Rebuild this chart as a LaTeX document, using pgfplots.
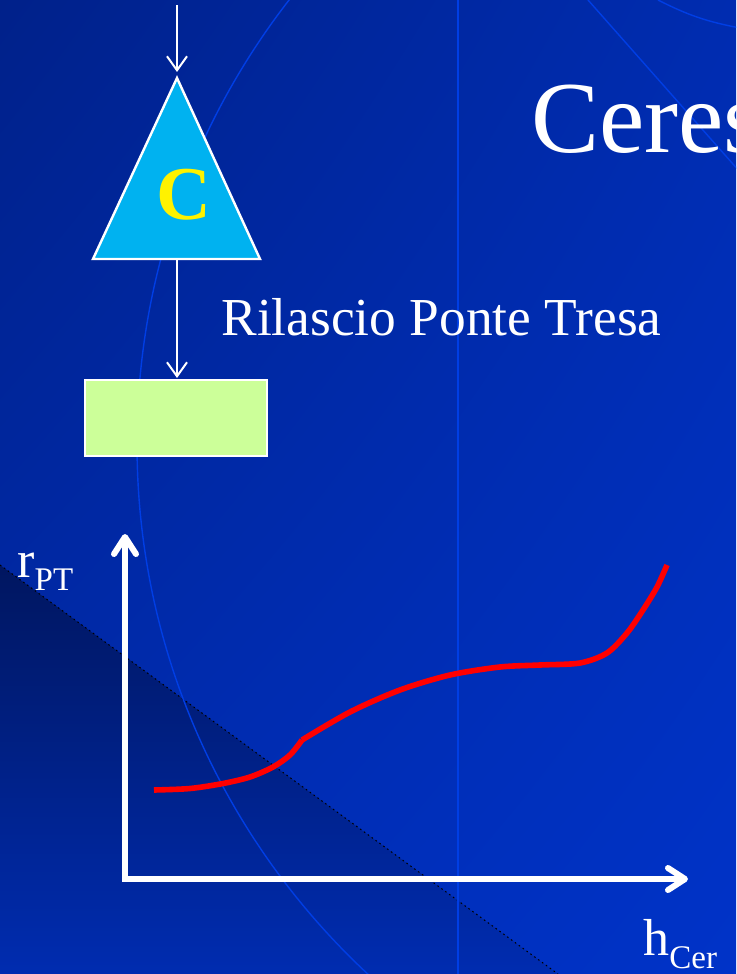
\documentclass[border=0pt]{standalone}
\usepackage{pgfplots}
\pgfplotsset{compat=1.18}
\usepackage{fontspec}
\setmainfont{Liberation Serif}
\usetikzlibrary{arrows.meta,shadings}
\definecolor{bgUL}{RGB}{0,33,138}
\definecolor{bgUR}{RGB}{0,44,176}
\definecolor{bgLL}{RGB}{0,44,178}
\definecolor{bgLR}{RGB}{0,51,200}
\definecolor{darkTop}{RGB}{0,22,96}
\definecolor{darkBot}{RGB}{0,44,176}
\definecolor{faint}{RGB}{0,62,228}
\definecolor{tri}{RGB}{0,178,240}
\definecolor{boxg}{RGB}{204,255,153}
\begin{document}
\begin{tikzpicture}
\begin{axis}[
  scale only axis, width=368pt, height=487pt,
  xmin=0, xmax=736, ymin=0, ymax=974, y dir=reverse,
  hide axis, clip mode=global,
]
% background
\shade[upper left=bgUL, upper right=bgUR, lower left=bgLL, lower right=bgLR]
  (axis cs:0,0) rectangle (axis cs:736,974);
\shade[top color=darkTop, bottom color=darkBot]
  (axis cs:0,565) -- (axis cs:558,974) -- (axis cs:0,974) -- cycle;
\draw[black, line width=0.5pt, dash pattern=on 0.8pt off 1.6pt] (axis cs:0,565) -- (axis cs:558,974);
% faint decorative lines
\draw[faint, line width=0.7pt] (axis cs:861,444) circle[radius=362pt];
\draw[faint, line width=0.7pt] (axis cs:458,0) -- (axis cs:458,974);
\draw[faint, line width=0.7pt] (axis cs:588,0) -- (axis cs:740,172);
\draw[faint, line width=0.7pt] (axis cs:658,0) to[bend right=8] (axis cs:740,28);
% diagram
\draw[white, line width=1pt, -{Straight Barb[length=7pt, width=10pt]}] (axis cs:177,5) -- (axis cs:177,72);
\filldraw[fill=tri, draw=white, line width=1.2pt, line join=miter]
  (axis cs:177,78) -- (axis cs:260,259) -- (axis cs:93,259) -- cycle;
\node[text=yellow, font=\fontsize{38}{40}\selectfont\bfseries, inner sep=0pt] at (axis cs:184,195) {C};
\draw[white, line width=1pt, -{Straight Barb[length=7pt, width=10pt]}] (axis cs:177,260) -- (axis cs:177,378);
\filldraw[fill=boxg, draw=white, line width=1pt] (axis cs:85,380) rectangle (axis cs:267,456);
\node[white, anchor=base west, inner sep=0pt, font=\fontsize{51}{60}\selectfont] at (axis cs:531,152) {Ceres};
\node[white, anchor=base west, inner sep=0pt, font=\fontsize{26.7}{30}\selectfont] at (axis cs:221,335) {Rilascio Ponte Tresa};
% axes of sketch
\draw[white, line width=3pt, line join=miter,
  {Straight Barb[length=8.5pt, width=11pt, round]}-{Straight Barb[length=8.5pt, width=11pt, round]}]
  (axis cs:125,534) -- (axis cs:125,879) -- (axis cs:688,879);
\node[white, anchor=base west, inner sep=0pt, font=\fontsize{26}{30}\selectfont] at (axis cs:17,577)
  {r\raisebox{-6.5pt}{\fontsize{16.5}{18}\selectfont PT}};
\node[white, anchor=base west, inner sep=0pt, font=\fontsize{26}{30}\selectfont] at (axis cs:643,955)
  {h\raisebox{-6.5pt}{\fontsize{16.5}{18}\selectfont Cer}};
% red curve
\addplot[red, line width=2.8pt, smooth, line cap=butt] coordinates {
  (154,790) (190,788.5) (223,783.5) (250,777) (273,767) (290,755) (302,740)
};
\addplot[red, line width=2.8pt, smooth, line cap=butt] coordinates {
  (302,740) (350,712) (400,690) (450,675) (500,667) (540,665) (580,663)
  (607,653) (627,633) (643,610) (657,587) (667,565)
};
\end{axis}
\pgfresetboundingbox
\path[use as bounding box] (current axis.south west) rectangle (current axis.north east);
\end{tikzpicture}
\end{document}
